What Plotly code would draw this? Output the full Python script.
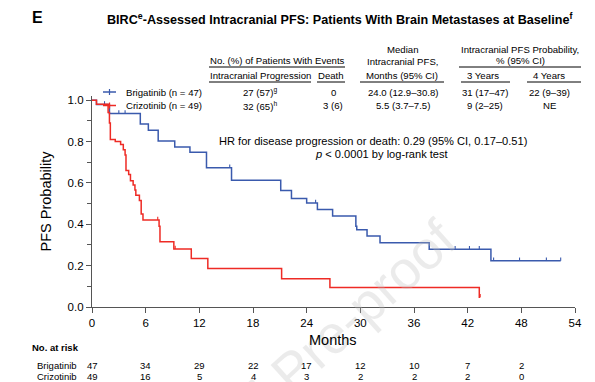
import plotly.graph_objects as go

# ---------------- data ----------------
months_ticks = [0, 6, 12, 18, 24, 30, 36, 42, 48, 54]

brig_t = [0, 0.5, 1.95, 5.4, 6.3, 7.4, 9.25, 10.95, 12.8, 15.6, 21.1, 22.3, 24.0,
          25.2, 26.9, 29.5, 29.6, 30.75, 32.2, 37.7, 44.6]
brig_s = [1.0, 0.979, 0.935, 0.885, 0.855, 0.803, 0.774, 0.748, 0.673, 0.613, 0.563,
          0.524, 0.503, 0.471, 0.44, 0.39, 0.374, 0.343, 0.311, 0.279, 0.223]
brig_end = 52.4
brig_cens = [1.4, 3.0, 3.7, 15.4, 25.0, 40.6, 42.2, 43.3, 44.9, 47.8, 50.8, 52.4]

criz_t = [0, 0.5, 1.8, 1.95, 2.05, 2.6, 3.2, 3.5, 3.7, 3.8, 4.1, 4.3, 4.6, 4.8, 4.9,
          5.3, 5.5, 5.7, 7.5, 7.6, 9.15, 11.1, 12.95, 21.2, 26.6, 43.3]
criz_s = [1.0, 0.98, 0.94, 0.89, 0.81, 0.80, 0.785, 0.76, 0.735, 0.66, 0.64, 0.61,
          0.59, 0.565, 0.54, 0.515, 0.45, 0.42, 0.39, 0.315, 0.28, 0.234, 0.186,
          0.137, 0.094, 0.047]
criz_end = 43.4
criz_cens = [7.35, 9.3, 43.4]

risk_times = [0, 6, 12, 18, 24, 30, 36, 42, 48]
brig_risk = [47, 34, 29, 22, 17, 12, 10, 7, 2]
criz_risk = [49, 16, 5, 4, 3, 2, 2, 2, 0]

BLUE = "#3a5aad"
RED = "#ee2b25"
FONT = "Liberation Sans, Arial, sans-serif"

W_FIG, H_FIG = 595, 382
L, R, T, B = 92, 20, 96, 75


def px(x):
    return (x - L) / (W_FIG - L - R)


def py(y):
    return (H_FIG - B - y) / (H_FIG - T - B)


def step_val(ts, ss, t):
    v = ss[0]
    for ti, si in zip(ts, ss):
        if ti <= t:
            v = si
    return v


fig = go.Figure()

for ts, ss, end, cens, col in [(brig_t, brig_s, brig_end, brig_cens, BLUE),
                               (criz_t, criz_s, criz_end, criz_cens, RED)]:
    fig.add_trace(go.Scatter(x=ts + [end], y=ss + [ss[-1]], mode="lines",
                             line=dict(color=col, width=1.5, shape="hv"),
                             showlegend=False, hoverinfo="skip"))
    cy = [step_val(ts, ss, c) for c in cens]
    fig.add_trace(go.Scatter(x=cens, y=cy, mode="markers",
                             marker=dict(size=2, color=col, opacity=0),
                             error_y=dict(type="data", symmetric=False,
                                          array=[0.016] * len(cens),
                                          arrayminus=[0] * len(cens),
                                          width=0, thickness=1.1, color=col),
                             showlegend=False, hoverinfo="skip"))

anns = []
shapes = []


def ann(text, x, y, size, bold=False, xanchor="center", family=FONT, **kw):
    if bold:
        text = "<b>" + text + "</b>"
    d = dict(text=text, x=px(x), y=py(y), xref="paper", yref="paper",
             xanchor=xanchor, yanchor="middle", showarrow=False,
             font=dict(size=size, family=family, color="black"))
    d.update(kw)
    anns.append(d)


def hline(x0, x1, y, color="black", width=1):
    shapes.append(dict(type="line", xref="paper", yref="paper",
                       x0=px(x0), x1=px(x1), y0=py(y), y1=py(y),
                       line=dict(color=color, width=width)))


def vline(x, y0, y1, color="black", width=1):
    shapes.append(dict(type="line", xref="paper", yref="paper",
                       x0=px(x), x1=px(x), y0=py(y0), y1=py(y1),
                       line=dict(color=color, width=width)))


# watermark
anns.append(dict(text="Journal Pre-proof", x=px(292), y=py(370), xref="paper",
                 yref="paper", xanchor="center", yanchor="middle",
                 showarrow=False, textangle=-42,
                 font=dict(size=54, family=FONT, color="#c0c0c0"), opacity=0.3))

# titles
ann("E", 30, 18, 16, bold=True, xanchor="left")
ann("BIRC<sup>e</sup>-Assessed Intracranial PFS: Patients With Brain Metastases at Baseline<sup>f</sup>",
    340, 19, 12.6, bold=True)

# table header
TS = 9.6
ann("No. (%) of Patients With Events", 277, 61, TS)
hline(209, 345, 67)
ann("Intracranial Progression", 260, 76, TS)
ann("Death", 331, 76, TS)
hline(209, 311, 82)
hline(317, 345, 82)
ann("Median", 402, 49.5, TS)
ann("Intracranial PFS,", 402, 62, TS)
ann("Months (95% CI)", 402, 76, TS)
hline(360, 444, 82)
ann("Intracranial PFS Probability,", 520, 49.5, TS)
ann("% (95% CI)", 520, 61, TS)
hline(459, 581, 67)
ann("3 Years", 483, 76, TS)
ann("4 Years", 549, 76, TS)
hline(461, 510, 82)
hline(527, 581, 82)

rows = [
    (92, BLUE, "Brigatinib (n = 47)", "27 (57)<sup>g</sup>", "0", "24.0 (12.9\u201330.8)", "31 (17\u201347)", "22 (9\u201339)"),
    (105.5, RED, "Crizotinib (n = 49)", "32 (65)<sup>h</sup>", "3 (6)", "5.5 (3.7\u20137.5)", "9 (2\u201325)", "NE"),
]
for y, col, name, prog, death, med, y3, y4 in rows:
    hline(103, 116, y, color=col, width=1.5)
    vline(109.5, y - 3, y + 3, color=col, width=1.2)
    ann(name, 124, y, TS, xanchor="left")
    ann(prog, 260, y, TS)
    ann(death, 333, y, TS)
    ann(med, 403, y, TS)
    ann(y3, 485, y, TS)
    ann(y4, 549, y, TS)

# HR text
ann("HR for disease progression or death: 0.29 (95% CI, 0.17\u20130.51)", 373, 141, 11.1)
ann("<i>p</i> &lt; 0.0001 by log-rank test", 381, 154, 11.1)

# axis title
ann("Months", 333, 340, 14.5)

# at risk table
ann("No. at risk", 30, 347, 9.5, bold=True, xanchor="left")
for y, name, vals in [(365, "Brigatinib", brig_risk), (376.5, "Crizotinib", criz_risk)]:
    ann(name, 35, y, 9.5, xanchor="left")
    for t, v in zip(risk_times, vals):
        anns.append(dict(text=str(v), x=t, xref="x", y=py(y), yref="paper",
                         xanchor="center", yanchor="middle", showarrow=False,
                         font=dict(size=9.5, family=FONT, color="black")))

AX = "#555555"
fig.update_layout(
    width=W_FIG, height=H_FIG,
    margin=dict(l=L, r=R, t=T, b=B, pad=0),
    paper_bgcolor="white", plot_bgcolor="white",
    font=dict(family=FONT, size=11, color="black"),
    annotations=anns, shapes=shapes,
    xaxis=dict(range=[0, 54], tickvals=months_ticks, showgrid=False, zeroline=False,
               showline=True, linecolor=AX, linewidth=1.3, ticks="outside",
               ticklen=5, tickcolor=AX, tickwidth=1.2,
               tickfont=dict(size=11.5, family=FONT, color="black")),
    yaxis=dict(title=dict(text="PFS Probability", font=dict(size=14.5, family=FONT), standoff=12),
               range=[0, 1.02], tickvals=[0, 0.2, 0.4, 0.6, 0.8, 1.0],
               ticktext=["0.0", "0.2", "0.4", "0.6", "0.8", "1.0"],
               showgrid=False, zeroline=False, showline=True, linecolor=AX,
               linewidth=1.3, ticks="outside", ticklen=5, tickcolor=AX, tickwidth=1.2,
               minor=dict(tickvals=[0.1, 0.3, 0.5, 0.7, 0.9], ticks="outside",
                          ticklen=4, tickcolor=AX, tickwidth=1.2, showgrid=False),
               tickfont=dict(size=11.5, family=FONT, color="black")),
)

fig.write_html("out.html", config={"displayModeBar": False},
               post_script="document.body.style.margin='0';document.body.style.padding='0';")
